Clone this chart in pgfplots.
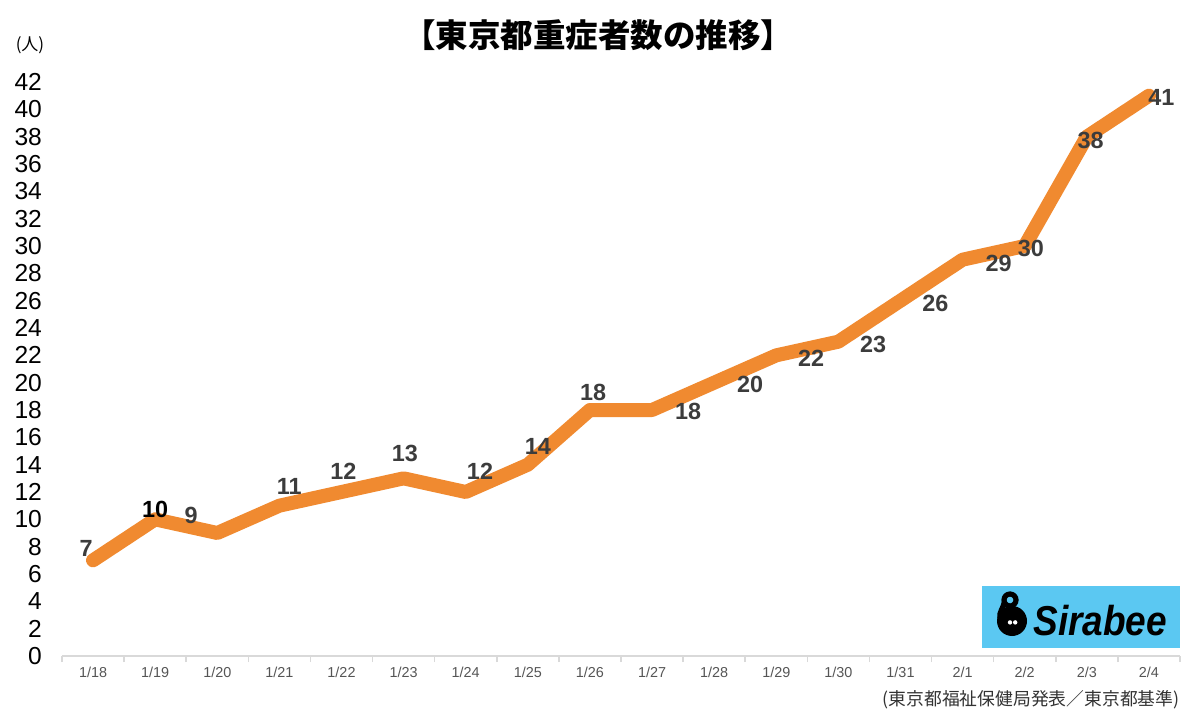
\documentclass[border=0pt]{standalone}
\usepackage{pgfplots}
\pgfplotsset{compat=1.18}
\usepackage{fontspec}
\setmainfont{Liberation Sans}
\newfontfamily\jp{Noto Sans CJK JP}
\definecolor{lineorange}{HTML}{F08A30}
\definecolor{labelgray}{HTML}{3C3C3C}
\definecolor{ticktext}{HTML}{555555}
\definecolor{sirablue}{HTML}{5BC8F2}

\begin{document}
\begin{tikzpicture}
\path[use as bounding box] (-31pt,-34pt) rectangle (569pt,328pt);
\begin{axis}[
  at={(0,0)}, anchor=south west,
  scale only axis, width=559pt, height=287pt,
  xmin=-0.5, xmax=17.5, ymin=0, ymax=42,
  axis lines*=left,
  y axis line style={draw=none},
  x axis line style={draw=black!15, line width=1pt},
  clip=false,
  xtick={0,...,17},
  xticklabels={1/18,1/19,1/20,1/21,1/22,1/23,1/24,1/25,1/26,1/27,1/28,1/29,1/30,1/31,2/1,2/2,2/3,2/4},
  minor xtick={-0.5,0.5,...,17.5},
  ytick={0,2,...,42},
  major tick length=0pt,
  minor tick length=3pt,
  tick align=outside,
  minor tick style={draw=black!15, line width=0.8pt},
  yticklabel style={font=\fontsize{12.3}{13}\selectfont, anchor=east, xshift=-6.5pt},
  xticklabel style={font=\fontsize{7.2}{8}\selectfont, text=ticktext, yshift=-2pt},
  /pgf/number format/assume math mode=true,
]
\addplot[color=lineorange, line width=7pt, line join=round, line cap=round]
coordinates {(0,7) (1,10) (2,9) (3,11) (4,12) (5,13) (6,12) (7,14) (8,18)
 (9,18) (10,20) (11,22) (12,23) (13,26) (14,29) (15,30) (16,38) (17,41)};

\addplot[draw=none, mark=none, nodes near coords, point meta=explicit symbolic,
  nodes near coords align={center},
  every node near coord/.append style={font=\bfseries\fontsize{11.7}{12}\selectfont, text=labelgray, inner sep=0pt}]
coordinates {(-0.11,7.9) [7] (1.58,10.3) [9] (3.16,12.4) [11] (4.03,13.5) [12]
 (5.02,14.8) [13] (6.23,13.5) [12] (7.16,15.3) [14] (8.05,19.3) [18]
 (9.58,17.9) [18] (10.58,19.9) [20] (11.56,21.8) [22] (12.56,22.8) [23]
 (13.56,25.8) [26] (14.58,28.7) [29] (15.1,29.8) [30] (16.06,37.7) [38]
 (17.2,40.9) [41]};

\addplot[draw=none, mark=none, nodes near coords, point meta=explicit symbolic,
  nodes near coords align={center},
  every node near coord/.append style={font=\bfseries\fontsize{11.7}{12}\selectfont, text=black, inner sep=0pt}]
coordinates {(1.0,10.7) [10]};
\end{axis}

% title and notes
\node[font=\jp\bfseries\fontsize{16.25}{18}\selectfont] at (268pt,310.5pt) {【東京都重症者数の推移】};
\node[font=\jp\fontsize{8.5}{9}\selectfont] at (-16pt,305.5pt) {(人)};
\node[font=\jp\fontsize{8.9}{9}\selectfont, anchor=east, text=black!80, inner sep=0pt] at (559pt,-22pt) {(東京都福祉保健局発表／東京都基準)};

% logo
\fill[sirablue] (460pt,4pt) rectangle (559pt,35pt);
\draw[black, line width=2.6pt] (474pt,28pt) circle (3pt);
\draw[black, line width=2.6pt] (471.2pt,27pt) to[out=-100,in=100] (469pt,19pt);
\fill[black] (475pt,17.5pt) circle (7.5pt);
\fill[white] (474pt,16.8pt) circle (1.1pt);
\fill[white] (476.6pt,16.8pt) circle (1.1pt);
\node[font=\bfseries\itshape\fontsize{18.5}{20}\selectfont, anchor=base west, inner sep=0pt, yscale=1.13] at (485.5pt,10.5pt) {Sirabee};
\end{tikzpicture}
\end{document}
